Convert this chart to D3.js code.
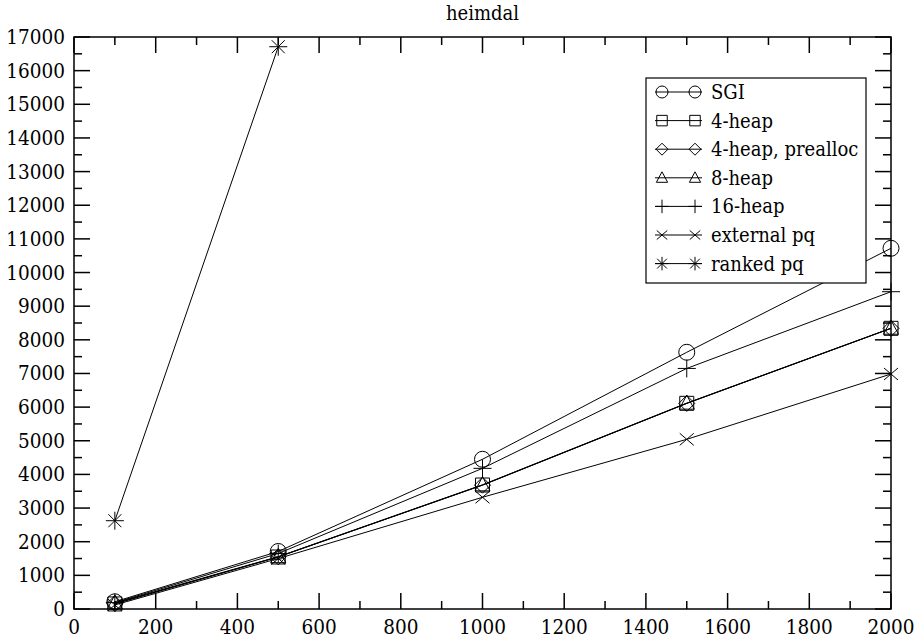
<!DOCTYPE html>
<html>
<head>
<meta charset="utf-8">
<script src="https://cdn.jsdelivr.net/npm/d3@7"></script>
<style>
  body { margin: 0; background: #fff; }
  text { font-family: 'DejaVu Serif', serif; font-stretch: condensed; }
</style>
</head>
<body>
<div id="chart"></div>
<script>
// data
const sizes = [100, 500, 1000, 1500, 2000];
const sgi = [215, 1710, 4450, 7630, 10720];
const heap4 = [150, 1545, 3685, 6113, 8342];
const heap4Prealloc = [160, 1550, 3680, 6110, 8340];
const heap8 = [180, 1555, 3690, 6118, 8345];
const heap16 = [190, 1650, 4180, 7150, 9430];
const externalPq = [120, 1500, 3320, 5043, 6984];
const rankedPq = [2624, 16711];

const series = [
  { name: "SGI", values: sgi, symbol: "circle" },
  { name: "4-heap", values: heap4, symbol: "square" },
  { name: "4-heap, prealloc", values: heap4Prealloc, symbol: "diamond" },
  { name: "8-heap", values: heap8, symbol: "triangle" },
  { name: "16-heap", values: heap16, symbol: "plus" },
  { name: "external pq", values: externalPq, symbol: "cross" },
  { name: "ranked pq", values: rankedPq, symbol: "star" }
];

const W = 918, H = 640;
const margin = { top: 37, right: 27, bottom: 31, left: 74 };

const svg = d3.select("#chart").append("svg")
  .attr("width", W)
  .attr("height", H);

const xScale = d3.scaleLinear().domain([0, 2000]).range([margin.left, W - margin.right]);
const yScale = d3.scaleLinear().domain([0, 17000]).range([H - margin.bottom, margin.top]);

// symbol paths, centered on 0,0
function symbolPath(type) {
  switch (type) {
    case "circle": return "M8,0A8,8 0 1,1 -8,0A8,8 0 1,1 8,0Z";
    case "square": return "M-7,-7H7V7H-7Z";
    case "diamond": return "M0,-8L8,0L0,8L-8,0Z";
    case "triangle": return "M0,-8L7.5,6L-7.5,6Z";
    case "plus": return "M-9,0H9M0,-9V9";
    case "cross": return "M-7,-6L7,6M-7,6L7,-6";
    case "star": return "M-9,0H9M0,-9V9M-6.5,-6.5L6.5,6.5M-6.5,6.5L6.5,-6.5";
  }
}

// series lines
const line = d3.line()
  .x((d, i) => xScale(sizes[i]))
  .y(d => yScale(d));

const plot = svg.append("g");
series.forEach(s => {
  plot.append("path")
    .attr("d", line(s.values))
    .attr("fill", "none")
    .attr("stroke", "#000")
    .attr("stroke-width", 1);
  plot.selectAll(null)
    .data(s.values)
    .enter().append("path")
      .attr("transform", (d, i) => "translate(" + xScale(sizes[i]) + "," + yScale(d) + ")")
      .attr("d", symbolPath(s.symbol))
      .attr("fill", "none")
      .attr("stroke", "#000")
      .attr("stroke-width", 1);
});

// axes: ticks inward on all four sides
const x0 = xScale.range()[0], x1 = xScale.range()[1];
const y0 = yScale.range()[0], y1 = yScale.range()[1];

const xMajor = d3.range(0, 2001, 200);
const xMinor = d3.range(100, 2000, 200);
const yMajor = d3.range(0, 17001, 1000);
const yMinor = d3.range(500, 17000, 1000);

const axes = svg.append("g").attr("stroke", "#000").attr("stroke-width", 1.5);
function tick(x1_, y1_, x2_, y2_) {
  axes.append("line").attr("x1", x1_).attr("y1", y1_).attr("x2", x2_).attr("y2", y2_);
}
xMajor.forEach(v => { tick(xScale(v), y0, xScale(v), y0 - 16); tick(xScale(v), y1, xScale(v), y1 + 16); });
xMinor.forEach(v => { tick(xScale(v), y0, xScale(v), y0 - 8); tick(xScale(v), y1, xScale(v), y1 + 8); });
yMajor.forEach(v => { tick(x0, yScale(v), x0 + 16, yScale(v)); tick(x1, yScale(v), x1 - 16, yScale(v)); });
yMinor.forEach(v => { tick(x0, yScale(v), x0 + 8, yScale(v)); tick(x1, yScale(v), x1 - 8, yScale(v)); });

axes.append("rect")
  .attr("x", x0).attr("y", y1)
  .attr("width", x1 - x0).attr("height", y0 - y1)
  .attr("fill", "none");

svg.append("g").selectAll("text")
  .data(xMajor)
  .enter().append("text")
    .attr("x", d => xScale(d))
    .attr("y", y0 + 25)
    .attr("text-anchor", "middle")
    .style("font-size", "20.5px")
    .text(d => d);

svg.append("g").selectAll("text")
  .data(yMajor)
  .enter().append("text")
    .attr("x", x0 - 9)
    .attr("y", d => yScale(d) + 7)
    .attr("text-anchor", "end")
    .style("font-size", "20.5px")
    .text(d => d);

svg.append("text")
  .attr("x", (x0 + x1) / 2)
  .attr("y", 20)
  .attr("text-anchor", "middle")
  .style("font-size", "20px")
  .text("heimdal");

// legend
const legend = svg.append("g");
legend.append("rect")
  .attr("x", 646).attr("y", 78)
  .attr("width", 220).attr("height", 205)
  .attr("fill", "#fff")
  .attr("stroke", "#000")
  .attr("stroke-width", 1.2);

series.forEach((s, i) => {
  const cy = 92 + i * 28.6;
  const g = legend.append("g");
  g.append("line")
    .attr("x1", 655).attr("x2", 702)
    .attr("y1", cy).attr("y2", cy)
    .attr("stroke", "#000");
  [662, 695].forEach(cx => {
    g.append("path")
      .attr("transform", "translate(" + cx + "," + cy + ") scale(0.75)")
      .attr("d", symbolPath(s.symbol))
      .attr("fill", "none")
      .attr("stroke", "#000")
      .attr("stroke-width", 1.33);
  });
  g.append("text")
    .attr("x", 711)
    .attr("y", cy + 7)
    .style("font-size", "20px")
    .text(s.name);
});
</script>
</body>
</html>
